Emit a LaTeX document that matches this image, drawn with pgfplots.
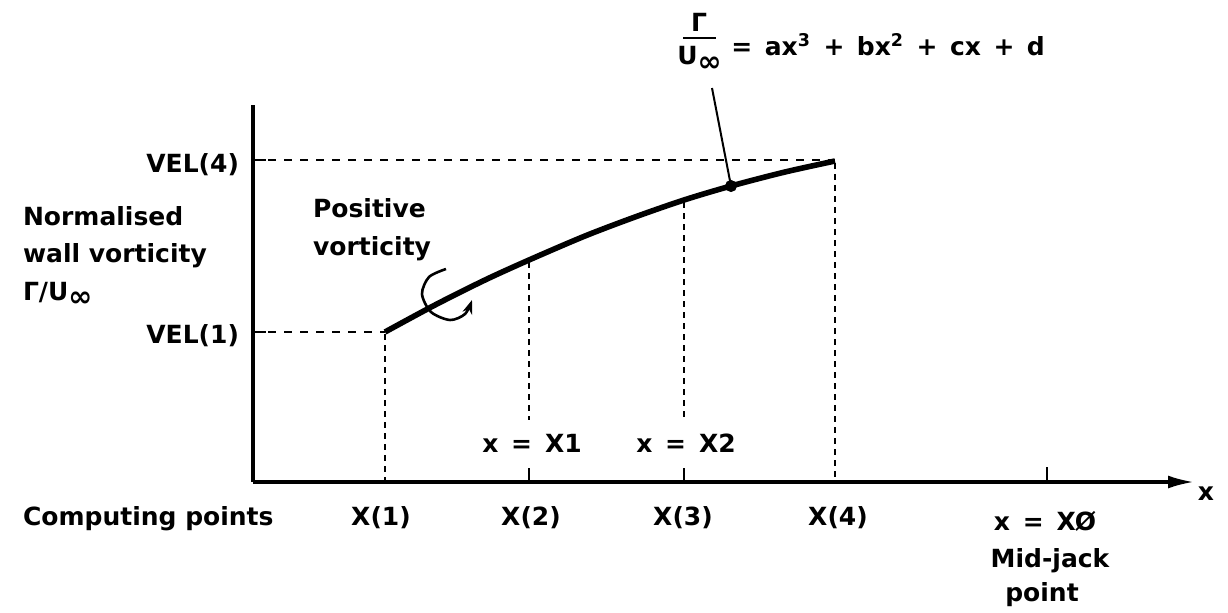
\documentclass[border=0pt]{standalone}
\usepackage{pgfplots}
\pgfplotsset{compat=1.18}
\usepackage{fontspec}
\setmainfont{DejaVu Sans}
\usetikzlibrary{arrows.meta}
\newcommand\gap{\hspace{0.5em}}

\begin{document}
\begin{tikzpicture}[font=\bfseries\fontsize{12.5}{15}\selectfont]
\begin{axis}[
    scale only axis,
    width=614pt, height=306pt,
    xmin=0, xmax=1228, ymin=0, ymax=612,
    y dir=reverse,
    hide axis, clip=false,
  ]
  \path (axis cs:0,0) rectangle (axis cs:1228,612);

  % axes
  \addplot[black, line width=1.6pt] coordinates {(253,105) (253,482)};
  \addplot[black, line width=1.6pt, -{Latex[length=13pt,width=6.5pt]}] coordinates {(253,482) (1194,482)};

  % ticks on the x axis
  \addplot[black, line width=1.2pt] coordinates {(529,468) (529,482)};
  \addplot[black, line width=1.2pt] coordinates {(684,468) (684,482)};
  \addplot[black, line width=1.2pt] coordinates {(1047,467) (1047,482)};
  % stubs on the y axis
  \addplot[black, line width=1.4pt] coordinates {(253,160) (266,160)};
  \addplot[black, line width=1.4pt] coordinates {(253,332) (266,332)};

  % dashed guide lines
  \addplot[black, line width=1.4pt, dash pattern=on 4pt off 4pt] coordinates {(268,160) (835,160)};
  \addplot[black, line width=1.4pt, dash pattern=on 4pt off 4pt] coordinates {(268,332) (385,332)};
  \addplot[black, line width=1.3pt, dash pattern=on 3pt off 2.5pt] coordinates {(385,334) (385,482)};
  \addplot[black, line width=1.3pt, dash pattern=on 3pt off 2.5pt] coordinates {(529,262) (529,420)};
  \addplot[black, line width=1.3pt, dash pattern=on 3pt off 2.5pt] coordinates {(684,202) (684,420)};
  \addplot[black, line width=1.3pt, dash pattern=on 3pt off 2.5pt] coordinates {(835,163) (835,482)};

  % wall vorticity curve
  \addplot[black, line width=2.8pt, smooth] coordinates {
    (385,332) (435,305) (485,280) (529,260) (585,236)
    (635,217) (684,200) (731,186) (785,172) (835,161)
  };

  % leader to the formula
  \addplot[black, line width=1pt] coordinates {(712,88) (731,186)};
  \addplot[black, only marks, mark=*, mark size=2.8pt] coordinates {(731,186)};

  % rotation sense
  \addplot[black, line width=1.3pt, smooth, -{Stealth[length=7pt,width=5pt]}] coordinates {
    (446,269) (429,277) (422,294) (431,312) (450,320) (465,314) (472,300)
  };

  % formula
  \node at (axis cs:699,22) {Γ};
  \draw[line width=1.1pt] (axis cs:683,38) -- (axis cs:716,38);
  \node at (axis cs:700,59) {U\textsubscript{\Large ∞}};
  \node[anchor=base west, inner sep=0pt] at (axis cs:731,55) {=\gap ax\textsuperscript{3}\gap +\gap bx\textsuperscript{2}\gap +\gap cx\gap +\gap d};

  % left labels
  \node[anchor=base west] at (axis cs:16,225) {Normalised};
  \node[anchor=base west] at (axis cs:16,262) {wall vorticity};
  \node[anchor=base west] at (axis cs:16,300) {Γ/U\textsubscript{\Large ∞}};
  \node[anchor=base east] at (axis cs:246,172) {VEL(4)};
  \node[anchor=base east] at (axis cs:246,343) {VEL(1)};

  \node[anchor=base west] at (axis cs:306,217) {Positive};
  \node[anchor=base west] at (axis cs:306,255) {vorticity};

  \node[anchor=base] at (axis cs:532,452) {x \,=\, X1};
  \node[anchor=base] at (axis cs:686,452) {x \,=\, X2};

  % bottom labels
  \node[anchor=base west] at (axis cs:16,525) {Computing points};
  \node[anchor=base] at (axis cs:381,525) {X(1)};
  \node[anchor=base] at (axis cs:531,525) {X(2)};
  \node[anchor=base] at (axis cs:683,525) {X(3)};
  \node[anchor=base] at (axis cs:838,525) {X(4)};
  \node[anchor=base] at (axis cs:1045,530) {x \,=\, XØ};
  \node[anchor=base] at (axis cs:1050,567) {Mid-jack};
  \node[anchor=base] at (axis cs:1042,601) {point};
  \node[anchor=base] at (axis cs:1206,500) {x};
\end{axis}
\end{tikzpicture}
\end{document}
